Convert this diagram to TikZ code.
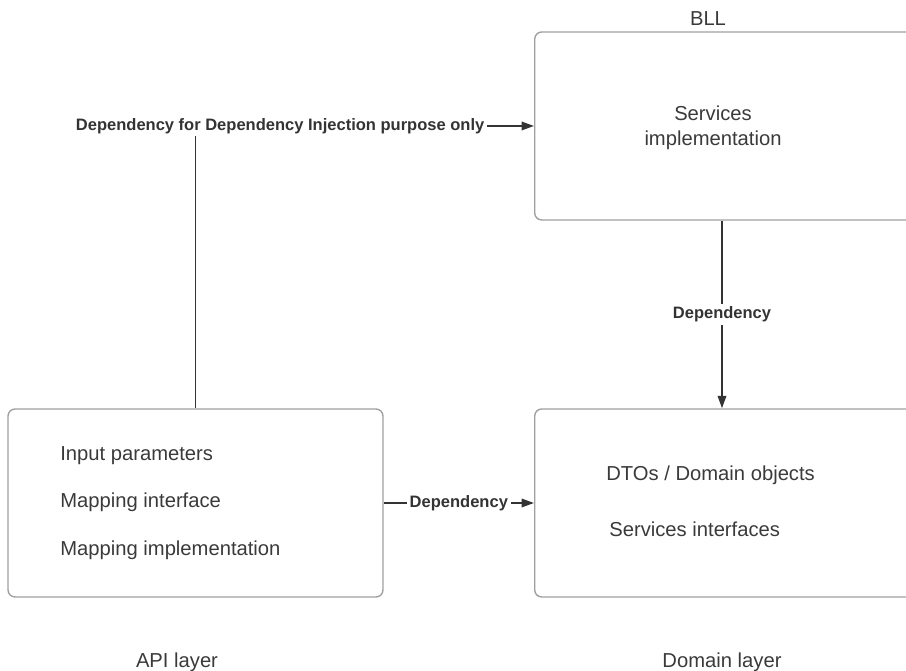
\documentclass[tikz,border=0pt]{standalone}
\usepackage{fontspec}
\setmainfont{Liberation Sans}
\usetikzlibrary{arrows.meta, positioning}
\definecolor{lyrgray}{HTML}{A0A0A0}
\definecolor{lyrtext}{HTML}{3A3A3A}
\definecolor{lyrline}{HTML}{333333}

\begin{document}
\begin{tikzpicture}[x=0.02cm, y=-0.02cm,
    layerbox/.style={rectangle, rounded corners=4pt, draw=lyrgray, line width=0.8pt,
                     minimum width=7.5cm, minimum height=3.76cm, inner sep=0pt},
    item/.style={anchor=base west, text=lyrtext, inner sep=0pt,
                 font=\fontsize{11.5}{14}\selectfont},
    caption/.style={anchor=base, text=lyrtext, inner sep=0pt,
                    font=\fontsize{11.5}{14}\selectfont},
    deplabel/.style={fill=white, text=lyrline, inner sep=1.5pt,
                     font=\fontsize{9.4}{11}\selectfont\bfseries},
    arrow/.style={-{Triangle[length=2.5mm, width=1.7mm]}, line width=1.1pt, lyrline}
  ]
    \clip (0,0) rectangle (906,671);
    \node[layerbox] (api) at (195.5,503) {};
    \node[layerbox, anchor=west, minimum width=8cm] (dom) at (534,503) {};
    \node[layerbox, anchor=west, minimum width=8cm] (bll) at (534,126) {};
    \node[caption] (bllcap) at (708,26) {BLL};
    \node[caption] (apicap) at (177,667) {API layer};
    \node[caption] (domcap) at (722,667) {Domain layer};
    \node[text=lyrtext, align=center, font=\fontsize{11.5}{14.5}\selectfont] (svcimpl) at (713,128) {Services\\implementation};
    \node[item] (inparam) at (60,461) {Input parameters};
    \node[item] (mapif) at (60,508) {Mapping interface};
    \node[item] (mapimpl) at (60,556) {Mapping implementation};
    \node[item] (dtos) at (606,481) {DTOs / Domain objects};
    \node[item] (svcif) at (609,537) {Services interfaces};
    \draw[arrow] (api.north) |- node[deplabel, pos=0.625] {Dependency for Dependency Injection purpose only} (bll.west);
    \draw[arrow] (bll.south -| domcap) -- node[deplabel] {Dependency} (dom.north -| domcap);
    \draw[arrow] (api.east) -- node[deplabel] {Dependency} (dom.west);
  \end{tikzpicture}
\end{document}
